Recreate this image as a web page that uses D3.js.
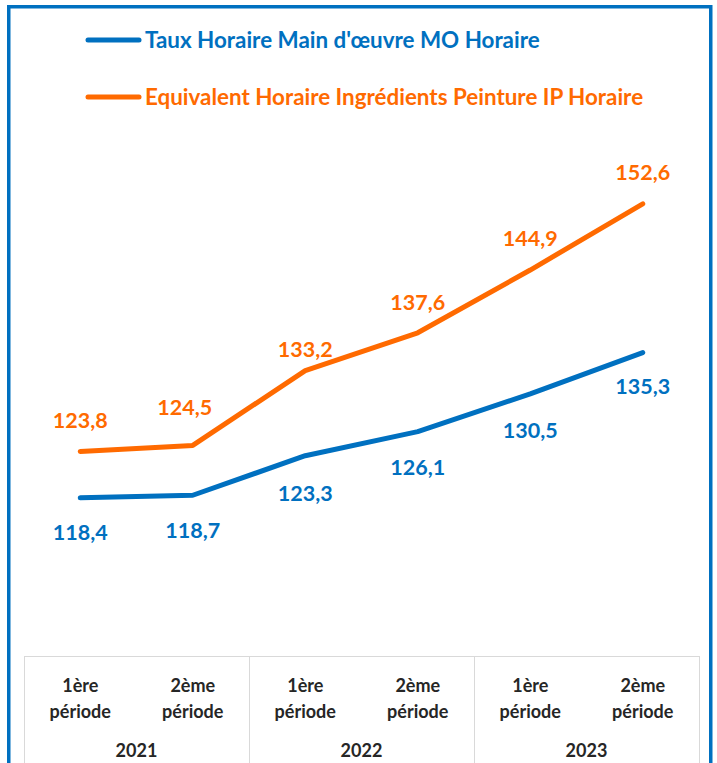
<!DOCTYPE html>
<html><head><meta charset="utf-8">
<script src="https://cdn.jsdelivr.net/npm/d3@7"></script>
<style>
html,body{margin:0;padding:0;background:#fff;}
svg{display:block;}
text{font-family:Lato,"Open Sans",sans-serif;font-weight:bold;}
</style></head>
<body>
<svg id="c" width="717" height="763"></svg>
<script>
const years = ["2021","2022","2023"];
const periods = ["1ère|période","2ème|période"];
const categories = ["2021-1","2021-2","2022-1","2022-2","2023-1","2023-2"];
const seriesNames = ["Taux Horaire Main d'œuvre MO Horaire","Equivalent Horaire Ingrédients Peinture IP Horaire"];
const moValues = [118.4,118.7,123.3,126.1,130.5,135.3];
const ipValues = [123.8,124.5,133.2,137.6,144.9,152.6];
const colors = ["#0070C0","#FF6A00"];
// label placement tweaks (pixels)
const moLabelDy = [34,35,38,36,36,34];
const ipLabelDy = [-31,-38,-21,-31,-32,-32];
const ipLabelDx = [0,-8,0,0,0,0];

const svg = d3.select("#c");
const W = 717, H = 763;
const left = 24, right = 699, plotBottom = 656;

// frame
svg.append("rect").attr("x",8.75).attr("y",6.75).attr("width",702).attr("height",780)
  .attr("fill","none").attr("stroke","#0070C0").attr("stroke-width",3.5);

const x = d3.scaleBand().domain(categories).range([left,right]);
const y = d3.scaleLinear().domain([100,160]).range([plotBottom, plotBottom-60*8.596]);
const cx = d => x(d)+x.bandwidth()/2;

// table axis
const g = svg.append("g");
const yearBand = d3.scaleBand().domain(years).range([left,right]);
g.append("rect").attr("x",left+0.5).attr("y",plotBottom+0.5).attr("width",right-left).attr("height",200)
  .attr("fill","none").attr("stroke","#D9D9D9").attr("stroke-width",1);
years.forEach((yr,i)=>{
  if(i>0) g.append("line").attr("x1",yearBand(yr)+0.5).attr("x2",yearBand(yr)+0.5)
    .attr("y1",plotBottom).attr("y2",H).attr("stroke","#D9D9D9");
  g.append("text").attr("x",yearBand(yr)+yearBand.bandwidth()/2).attr("y",757)
    .attr("text-anchor","middle").attr("font-size",18).attr("fill","#262626").text(yr);
});
categories.forEach((c,i)=>{
  const lines = periods[i%2].split("|");
  lines.forEach((l,j)=>{
    g.append("text").attr("x",cx(c)).attr("y",692+j*26).attr("text-anchor","middle")
      .attr("font-size",18).attr("fill","#262626").text(l);
  });
});

// lines
const line = d3.line().x((d,i)=>cx(categories[i])).y(d=>y(d));
[moValues, ipValues].forEach((vals,k)=>{
  svg.append("path").datum(vals).attr("d",line).attr("fill","none")
    .attr("stroke",colors[k]).attr("stroke-width",5).attr("stroke-linecap","round").attr("stroke-linejoin","round");
});

const fmt = v => v.toFixed(1).replace(".",",");
moValues.forEach((v,i)=>{
  svg.append("text").attr("x",cx(categories[i])).attr("y",y(v)+moLabelDy[i]).attr("dy","0.36em")
    .attr("text-anchor","middle").attr("font-size",21.5).attr("fill",colors[0]).text(fmt(v));
});
ipValues.forEach((v,i)=>{
  svg.append("text").attr("x",cx(categories[i])+ipLabelDx[i]).attr("y",y(v)+ipLabelDy[i]).attr("dy","0.36em")
    .attr("text-anchor","middle").attr("font-size",21.5).attr("fill",colors[1]).text(fmt(v));
});

// legend
seriesNames.forEach((n,k)=>{
  const ly = 40 + k*57;
  svg.append("line").attr("x1",88).attr("x2",139).attr("y1",ly).attr("y2",ly)
    .attr("stroke",colors[k]).attr("stroke-width",5).attr("stroke-linecap","round");
  svg.append("text").attr("x",145).attr("y",ly).attr("dy","0.36em").attr("font-size",22.4)
    .attr("fill",colors[k]).text(n);
});
</script>
</body></html>
